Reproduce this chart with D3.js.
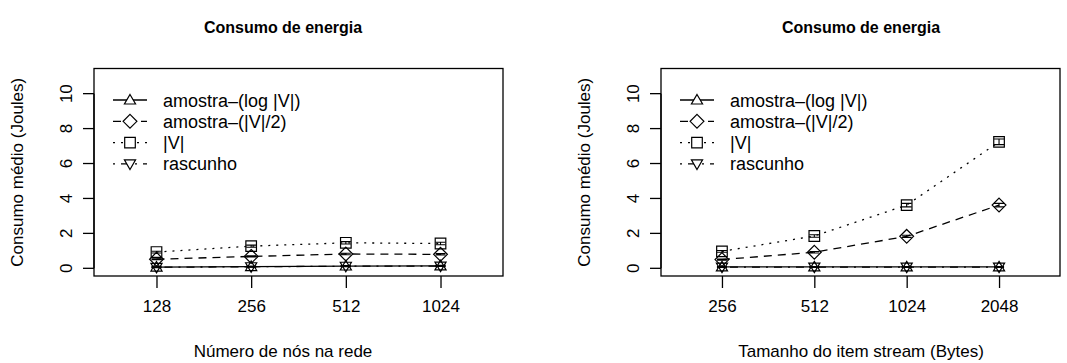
<!DOCTYPE html>
<html>
<head>
<meta charset="utf-8">
<script src="https://cdn.jsdelivr.net/npm/d3@7"></script>
<style>
  html, body { margin: 0; padding: 0; background: #fff; }
  svg { display: block; }
  text { font-family: "Liberation Sans", Arial, Helvetica, sans-serif; fill: #000; }
</style>
</head>
<body>
<svg id="chart" width="1067" height="363"></svg>
<script>
// ---- data ----
const seriesNames = ["amostra\u2013(log |V|)", "amostra\u2013(|V|/2)", "|V|", "rascunho"];
const yTicks = [0, 2, 4, 6, 8, 10];

// left panel: number of nodes
const nodesLabels = ["128", "256", "512", "1024"];
const nodesLog    = [0.07, 0.10, 0.13, 0.14];
const nodesHalf   = [0.52, 0.68, 0.82, 0.80];
const nodesFull   = [0.93, 1.27, 1.46, 1.42];
const nodesSketch = [0.06, 0.09, 0.12, 0.13];
const nodesLogErr    = [0.02, 0.02, 0.03, 0.03];
const nodesHalfErr   = [0.03, 0.03, 0.04, 0.04];
const nodesFullErr   = [0.05, 0.06, 0.07, 0.07];
const nodesSketchErr = [0.02, 0.02, 0.03, 0.03];

// right panel: stream item size
const sizeLabels = ["256", "512", "1024", "2048"];
const sizeLog    = [0.08, 0.08, 0.08, 0.08];
const sizeHalf   = [0.50, 0.92, 1.83, 3.62];
const sizeFull   = [0.97, 1.85, 3.62, 7.24];
const sizeSketch = [0.07, 0.07, 0.07, 0.07];
const sizeLogErr    = [0.02, 0.02, 0.02, 0.02];
const sizeHalfErr   = [0.03, 0.04, 0.06, 0.10];
const sizeFullErr   = [0.05, 0.07, 0.10, 0.16];
const sizeSketchErr = [0.02, 0.02, 0.02, 0.02];

const panels = [
  { left: 94, width: 409, textMid: 283, title: "Consumo de energia", xlabel: "N\u00famero de n\u00f3s na rede",
    labels: nodesLabels,
    values: [nodesLog, nodesHalf, nodesFull, nodesSketch],
    errors: [nodesLogErr, nodesHalfErr, nodesFullErr, nodesSketchErr] },
  { left: 661, width: 399, textMid: 861, title: "Consumo de energia", xlabel: "Tamanho do item stream (Bytes)",
    labels: sizeLabels,
    values: [sizeLog, sizeHalf, sizeFull, sizeSketch],
    errors: [sizeLogErr, sizeHalfErr, sizeFullErr, sizeSketchErr] }
];

// ---- styles per series ----
const dashes = [null, "8,6", "2,6", "2,6,8,6"];
const symbols = ["triUp", "diamond", "square", "triDown"];

function symbolPath(kind, r) {
  switch (kind) {
    case "triUp":   return `M0,${-r*1.05}L${r*1.05},${r*0.75}L${-r*1.05},${r*0.75}Z`;
    case "triDown": return `M0,${r*1.05}L${r*1.05},${-r*0.75}L${-r*1.05},${-r*0.75}Z`;
    case "diamond": return `M0,${-r*1.3}L${r*1.3},0L0,${r*1.3}L${-r*1.3},0Z`;
    case "square":  return `M${-r},${-r}H${r}V${r}H${-r}Z`;
  }
}

const svg = d3.select("#chart");
const boxTop = 68.5, boxBottom = 276;

panels.forEach(p => {
  const g = svg.append("g");
  const x = d3.scaleLinear().domain([0.34, 4.66]).range([p.left, p.left + p.width]);
  const y = d3.scaleLinear().domain([-0.44, 11.44]).range([boxBottom, boxTop]);
  const idx = d3.range(1, p.labels.length + 1);

  // title
  g.append("text")
    .attr("x", p.textMid).attr("y", 33)
    .attr("text-anchor", "middle")
    .style("font-weight", "bold").style("font-size", "16px")
    .text(p.title);

  // frame
  g.append("rect")
    .attr("x", p.left).attr("y", boxTop)
    .attr("width", p.width).attr("height", boxBottom - boxTop)
    .attr("fill", "none").attr("stroke", "#000").attr("stroke-width", 1.3);

  // y axis (labels rotated, as in base R)
  const yAxis = g.append("g").attr("transform", `translate(${p.left},0)`);
  yAxis.append("line")
    .attr("x1", 0).attr("x2", 0).attr("y1", y(0)).attr("y2", y(10))
    .attr("stroke", "#000").attr("stroke-width", 1.3);
  yTicks.forEach(t => {
    yAxis.append("line")
      .attr("x1", 0).attr("x2", -11).attr("y1", y(t)).attr("y2", y(t))
      .attr("stroke", "#000").attr("stroke-width", 1.3);
    yAxis.append("text")
      .attr("transform", `translate(-22,${y(t)}) rotate(-90)`)
      .attr("text-anchor", "middle")
      .style("font-size", "17px")
      .text(t);
  });
  g.append("text")
    .attr("transform", `translate(${p.left - 71},${(boxTop + boxBottom) / 2}) rotate(-90)`)
    .attr("text-anchor", "middle")
    .style("font-size", "17px")
    .text("Consumo m\u00e9dio (Joules)");

  // x axis
  const xAxis = d3.axisBottom(x).tickValues(idx)
    .tickFormat(i => p.labels[i - 1]).tickSize(12).tickPadding(12);
  const xa = g.append("g").attr("transform", `translate(0,${boxBottom})`).call(xAxis);
  xa.select(".domain").remove();
  xa.selectAll(".tick line").attr("stroke", "#000").attr("stroke-width", 1.3);
  xa.selectAll(".tick text")
    .style("font-size", "17px").style("font-family", "Liberation Sans, Arial, sans-serif")
    .attr("fill", "#000");
  g.append("text")
    .attr("x", p.textMid).attr("y", 357)
    .attr("text-anchor", "middle")
    .style("font-size", "17px")
    .text(p.xlabel);

  // series
  const line = d3.line().x((d, i) => x(i + 1)).y(d => y(d));
  p.values.forEach((vals, s) => {
    g.append("path")
      .attr("d", line(vals))
      .attr("fill", "none").attr("stroke", "#000").attr("stroke-width", 1.3)
      .attr("stroke-dasharray", dashes[s]);
    vals.forEach((v, i) => {
      g.append("path")
        .attr("transform", `translate(${x(i + 1)},${y(v)})`)
        .attr("d", symbolPath(symbols[s], 5.3))
        .attr("fill", "none").attr("stroke", "#000").attr("stroke-width", 1.2);
      const e = p.errors[s][i];
      const cx = x(i + 1), lo = y(v - e), hi = y(v + e);
      g.append("path")
        .attr("d", `M${cx},${lo}V${hi}M${cx - 5},${lo}H${cx + 5}M${cx - 5},${hi}H${cx + 5}`)
        .attr("fill", "none").attr("stroke", "#000").attr("stroke-width", 1.1);
    });
  });

  // legend
  const lx = p.left + 19;
  seriesNames.forEach((name, s) => {
    const ly = 100 + s * 21.3;
    g.append("line")
      .attr("x1", lx).attr("x2", lx + 34).attr("y1", ly).attr("y2", ly)
      .attr("stroke", "#000").attr("stroke-width", 1.3)
      .attr("stroke-dasharray", dashes[s]);
    g.append("path")
      .attr("transform", `translate(${lx + 17},${ly})`)
      .attr("d", symbolPath(symbols[s], 5.3))
      .attr("fill", "#fff").attr("stroke", "#000").attr("stroke-width", 1.2);
    g.append("text")
      .attr("x", lx + 50).attr("y", ly + 6.5)
      .style("font-size", "18px")
      .text(name);
  });
});
</script>
</body>
</html>
